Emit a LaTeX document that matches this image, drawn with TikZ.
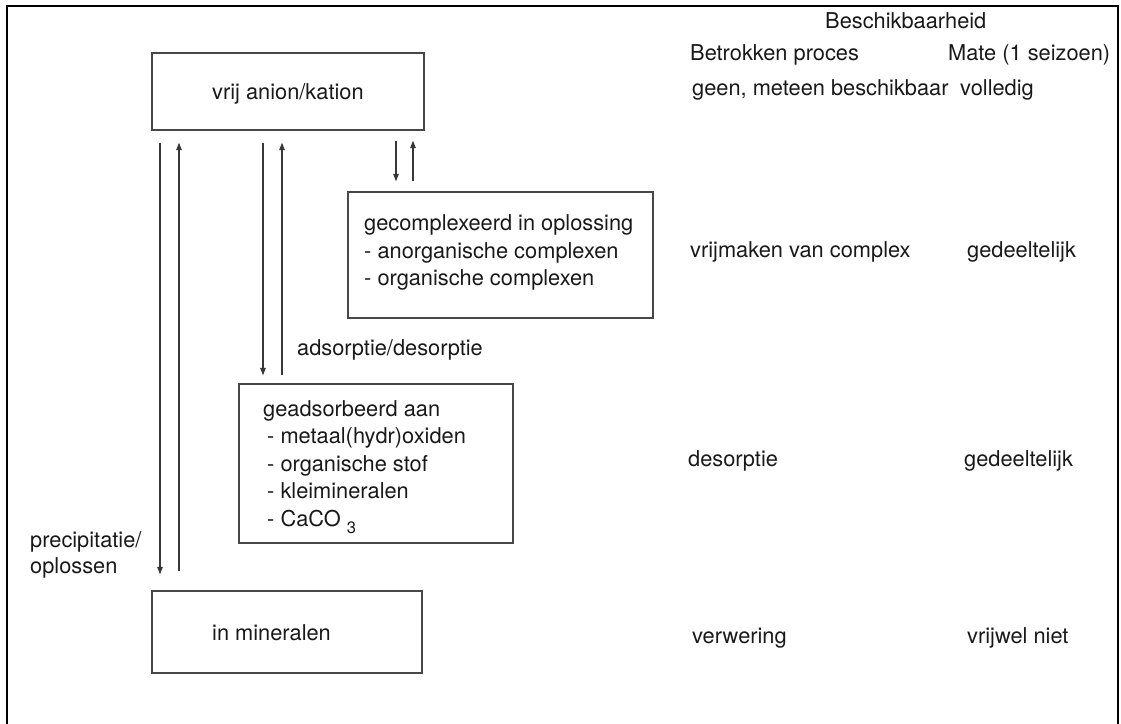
\documentclass[tikz,border=0pt]{standalone}
\usepackage{fontspec}
\setmainfont{TeX Gyre Heros}
\usetikzlibrary{arrows.meta}
\begin{document}
\begin{tikzpicture}[x=1pt,y=-1pt,
  lbl/.style={anchor=base west, inner sep=0pt,
    font=\fontsize{21.8}{27.5}\selectfont, text=black!90},
  panel/.style={draw=black!72, line width=1.3pt, inner sep=0pt},
  flow/.style={draw=black!78, line width=1.1pt,
    -{Triangle[length=7.5pt,width=5.5pt]}}]
\useasboundingbox (0,0) rectangle (1121,723);

% outer frame (open at the bottom)
\draw[line width=2pt, line cap=butt] (7,740) -- (7,6) -- (1118,6) -- (1118,740);

% compartments
\node[panel, minimum width=272pt, minimum height=77pt]  (free)    at (288,91.5)  {};
\node[panel, minimum width=305pt, minimum height=126pt] (cplx)    at (500.5,255) {};
\node[panel, minimum width=274pt, minimum height=159pt] (sorb)    at (376,463.5) {};
\node[panel, minimum width=270pt, minimum height=82pt]  (mineral) at (287,632)   {};

% compartment texts
\node[lbl] (tfree) at (212,99) {vrij anion/kation};
\node[lbl] (tc1) at (364,230) {gecomplexeerd in oplossing};
\node[lbl] (tc2) at (364,258) {- anorganische complexen};
\node[lbl] (tc3) at (364,285) {- organische complexen};
\node[lbl] (ts1) at (263,416) {geadsorbeerd aan};
\node[lbl] (ts2) at (267,443.5) {- metaal(hydr)oxiden};
\node[lbl] (ts3) at (267,471) {- organische stof};
\node[lbl] (ts4) at (267,498.5) {- kleimineralen};
\node[lbl] (ts5) at (267,526) {- CaCO \raisebox{-7pt}{\fontsize{16.5}{16.5}\selectfont 3}};
\node[lbl] (tmin) at (212,640) {in mineralen};

% process labels
\node[lbl] (lprec) at (30,547) {precipitatie/};
\node[lbl] (lopl)  at (30,573) {oplossen};
\node[lbl] (lads)  at (297,355) {adsorptie/desorptie};

% table on the right
\node[lbl] (hbes)  at (825,28) {Beschikbaarheid};
\node[lbl] (hproc) at (690,60) {Betrokken proces};
\node[lbl] (hmate) at (948,60) {Mate (1 seizoen)};
\node[lbl] (p1) at (692,95)  {geen, meteen beschikbaar};
\node[lbl] (m1) at (960,95)  {volledig};
\node[lbl] (p2) at (690,257) {vrijmaken van complex};
\node[lbl] (m2) at (967,257) {gedeeltelijk};
\node[lbl] (p3) at (688,466) {desorptie};
\node[lbl] (m3) at (964,466) {gedeeltelijk};
\node[lbl] (p4) at (692,643) {verwering};
\node[lbl] (m4) at (967,643) {vrijwel niet};

% arrow columns
\coordinate (xa) at (160,0);
\coordinate (xb) at (179,0);
\coordinate (xc) at (263,0);
\coordinate (xd) at (282,0);
\coordinate (xe) at (396,0);
\coordinate (xf) at (413,0);

% precipitation / dissolution
\draw[flow] ([yshift=-12pt]free.south -| xa) -- ([yshift=16pt]mineral.north -| xa);
\draw[flow] ([yshift=19pt]mineral.north -| xb) -- ([yshift=-12pt]free.south -| xb);
% adsorption / desorption
\draw[flow] ([yshift=-12pt]free.south -| xc) -- ([yshift=8pt]sorb.north -| xc);
\draw[flow] ([yshift=8pt]sorb.north -| xd) -- ([yshift=-12pt]free.south -| xd);
% complexation
\draw[flow] ([yshift=-10pt]free.south -| xe) -- ([yshift=10pt]cplx.north -| xe);
\draw[flow] ([yshift=10pt]cplx.north -| xf) -- ([yshift=-10pt]free.south -| xf);
\end{tikzpicture}
\end{document}
